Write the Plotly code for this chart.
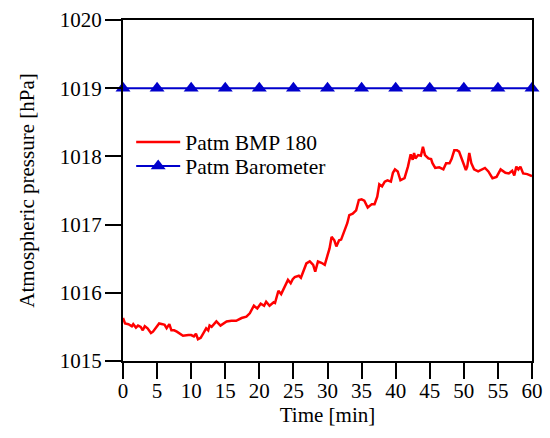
import plotly.graph_objects as go

# Sensor reading (BMP 180) over one hour
time_bmp = [
    0.0, 0.3, 0.8, 1.3, 1.5, 1.9, 2.2, 2.6, 2.9, 3.2, 3.6, 4.1, 4.4, 4.8, 5.3,
    5.8, 6.1, 6.4, 6.8, 7.1, 7.5, 7.9, 8.2, 8.8, 9.6, 10.0, 10.4, 10.7, 11.0,
    11.4, 11.8, 12.2, 12.5, 12.7, 13.0, 13.7, 14.3, 15.2, 15.9, 16.6, 17.4,
    18.1, 18.6, 19.2, 19.7, 20.2, 20.7, 21.0, 21.5, 22.1, 22.3, 22.8, 23.2,
    23.6, 24.2, 24.6, 24.9, 25.2, 25.8, 26.1, 26.4, 26.9, 27.4, 27.9, 28.2,
    28.6, 29.1, 29.6, 30.0, 30.3, 30.6, 31.0, 31.3, 31.7, 32.0, 32.5, 32.9,
    33.2, 33.7, 34.2, 34.6, 35.0, 35.4, 35.9, 36.5, 36.9, 37.3, 37.6, 38.0,
    38.4, 38.8, 39.3, 39.6, 39.9, 40.3, 40.7, 41.3, 41.8, 42.2, 42.5, 42.7,
    42.9, 43.3, 43.7, 44.0, 44.3, 44.8, 45.2, 45.4, 45.8, 46.4, 47.0, 47.4,
    47.9, 48.2, 48.6, 49.0, 49.3, 49.7, 50.0, 50.3, 50.5, 50.8, 51.1, 51.5,
    52.1, 52.6, 53.1, 53.6, 54.2, 54.8, 55.4, 56.1, 56.6, 57.1, 57.4, 57.7,
    58.0, 58.3, 58.7, 59.3, 59.7, 60.0,
]
patm_bmp = [
    1015.63, 1015.55, 1015.54, 1015.51, 1015.54, 1015.49, 1015.52, 1015.50,
    1015.45, 1015.51, 1015.48, 1015.41, 1015.43, 1015.48, 1015.55, 1015.54,
    1015.53, 1015.48, 1015.54, 1015.45, 1015.45, 1015.43, 1015.41, 1015.37,
    1015.38, 1015.38, 1015.36, 1015.40, 1015.32, 1015.34, 1015.41, 1015.48,
    1015.45, 1015.52, 1015.50, 1015.58, 1015.52, 1015.58, 1015.59, 1015.59,
    1015.63, 1015.65, 1015.70, 1015.81, 1015.77, 1015.84, 1015.81, 1015.87,
    1015.81, 1015.86, 1015.85, 1016.03, 1015.98, 1016.06, 1016.19, 1016.14,
    1016.20, 1016.23, 1016.25, 1016.22, 1016.31, 1016.43, 1016.46, 1016.41,
    1016.31, 1016.46, 1016.44, 1016.41, 1016.55, 1016.65, 1016.82, 1016.77,
    1016.68, 1016.77, 1016.78, 1016.92, 1017.02, 1017.14, 1017.16, 1017.21,
    1017.36, 1017.37, 1017.35, 1017.25, 1017.30, 1017.30, 1017.41, 1017.59,
    1017.56, 1017.63, 1017.65, 1017.63, 1017.76, 1017.81, 1017.78, 1017.65,
    1017.68, 1017.85, 1018.03, 1017.95, 1018.05, 1017.97, 1018.02, 1018.01,
    1018.14, 1018.02, 1017.97, 1017.96, 1017.90, 1017.83, 1017.84, 1017.81,
    1017.90, 1017.90, 1017.96, 1018.09, 1018.09, 1018.07, 1017.97, 1017.87,
    1017.80, 1017.85, 1018.05, 1017.90, 1017.81, 1017.78, 1017.81, 1017.83,
    1017.78, 1017.68, 1017.70, 1017.81, 1017.76, 1017.75, 1017.79, 1017.72,
    1017.85, 1017.81, 1017.85, 1017.75, 1017.74, 1017.72, 1017.71,
]

# Reference barometer, read every 5 minutes
time_baro = [0, 5, 10, 15, 20, 25, 30, 35, 40, 45, 50, 55, 60]
patm_baro = [1019.0] * 13

x_ticks = [0, 5, 10, 15, 20, 25, 30, 35, 40, 45, 50, 55, 60]
y_ticks = [1015, 1016, 1017, 1018, 1019, 1020]

FONT = "Times New Roman, serif"
FS = 21

fig = go.Figure()
fig.add_trace(go.Scatter(
    x=time_bmp, y=patm_bmp, mode="lines", name="Patm BMP 180",
    line=dict(color="#ff0000", width=2.5), legend="legend",
))
fig.add_trace(go.Scatter(
    x=time_baro, y=patm_baro, mode="lines+markers", name="Patm Barometer",
    line=dict(color="#0000cc", width=2),
    marker=dict(symbol="triangle-up", size=13, color="#0000cc"),
    cliponaxis=False, legend="legend2",
))

axis_common = dict(
    showgrid=False, zeroline=False, showline=True, linecolor="black",
    linewidth=2, mirror=True, ticks="outside", ticklen=16, tickwidth=2,
    tickcolor="black", automargin=False,
    tickfont=dict(family=FONT, size=FS, color="black", weight="normal"),
)

legend_common = dict(
    xanchor="left", yanchor="middle", bgcolor="rgba(0,0,0,0)",
    font=dict(family=FONT, size=21.5, color="black", weight="normal"),
    itemwidth=44,
)

title_font = dict(family=FONT, size=FS, color="black", weight="normal")

fig.update_layout(
    width=550, height=438,
    margin=dict(l=123, r=18, t=20, b=77),
    paper_bgcolor="white", plot_bgcolor="white",
    font=dict(family=FONT, size=FS, color="black"),
    xaxis=dict(range=[0, 60], tickvals=x_ticks, ticklabelstandoff=-6,
               title=dict(text="Time [min]", font=title_font, standoff=0),
               **axis_common),
    yaxis=dict(range=[1015, 1020], tickvals=y_ticks, ticklabelstandoff=-1,
               title=dict(text="Atmospheric pressure [hPa]",
                          font=title_font, standoff=19),
               **axis_common),
    legend=dict(x=0.02, y=(361 - 142) / 341, **legend_common),
    legend2=dict(x=0.02, y=(361 - 166) / 341, **legend_common),
    showlegend=True,
)

fig.write_html("out.html")
